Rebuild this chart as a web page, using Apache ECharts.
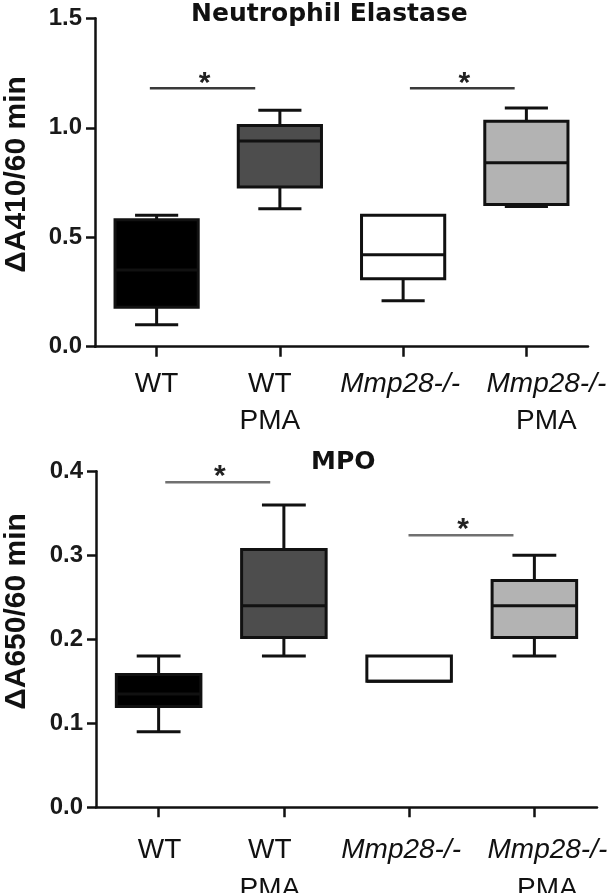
<!DOCTYPE html>
<html>
<head>
<meta charset="utf-8">
<script src="https://cdn.jsdelivr.net/npm/echarts@6/dist/echarts.min.js"></script>
<style>
html,body{margin:0;padding:0;background:#fff;}
#chart{width:610px;height:893px;}
</style>
</head>
<body>
<div id="chart"></div>
<script>
// ---- data ----
const categories = ['WT', 'WT PMA', 'Mmp28-/-', 'Mmp28-/- PMA'];

// Neutrophil Elastase (ΔA410/60 min)
const neMin    = [0.10, 0.63, 0.21, 0.64];
const neQ1     = [0.18, 0.73, 0.31, 0.65];
const neMedian = [0.35, 0.94, 0.42, 0.84];
const neQ3     = [0.58, 1.01, 0.60, 1.03];
const neMax    = [0.60, 1.08, 0.60, 1.09];
const neTicks  = [0, 0.5, 1.0, 1.5];
// significance comparisons: [fromGroup, toGroup, level]
const neSig = [[0, 1, 1.18], [2, 3, 1.18]];

// MPO (ΔA650/60 min)
const mpoMin    = [0.090, 0.180, 0.150, 0.180];
const mpoQ1     = [0.120, 0.202, 0.150, 0.202];
const mpoMedian = [0.135, 0.240, 0.150, 0.240];
const mpoQ3     = [0.158, 0.307, 0.180, 0.270];
const mpoMax    = [0.180, 0.360, 0.180, 0.300];
const mpoTicks  = [0, 0.1, 0.2, 0.3, 0.4];
const mpoSig = [[0, 1, 0.387], [2, 3, 0.324]];

// ---- style ----
const fills = ['#000000', '#4d4d4d', '#ffffff', '#b3b3b3'];
const BOX_W = 0.675, CAP_W = 0.35;
const neSigShift = [[-0.055, -0.20], [0.055, -0.095]];
const mpoSigShift = [[0.053, -0.109], [-0.005, -0.167]];
const neLabelShift = [0, -10, -3, 20];
const mpoLabelShift = [1, -14, -8, 13];

function boxData(mn, q1, md, q3, mx) {
  return categories.map((c, i) => [i, mn[i], q1[i], md[i], q3[i], mx[i]]);
}

function renderBox(params, api) {
  const idx = api.value(0);
  const vmin = api.value(1), q1 = api.value(2), med = api.value(3), q3 = api.value(4), vmax = api.value(5);
  const band = api.size([1, 0])[0];
  const cx = api.coord([idx, 0])[0];
  const Y = v => api.coord([idx, v])[1];
  const hw = band * BOX_W / 2, cw = band * CAP_W / 2;
  const ls = {stroke: '#111', lineWidth: 3};
  const children = [];
  if (vmax > q3) {
    children.push({type: 'line', shape: {x1: cx, y1: Y(q3), x2: cx, y2: Y(vmax)}, style: ls});
    children.push({type: 'line', shape: {x1: cx - cw, y1: Y(vmax), x2: cx + cw, y2: Y(vmax)}, style: ls});
  }
  if (vmin < q1) {
    children.push({type: 'line', shape: {x1: cx, y1: Y(q1), x2: cx, y2: Y(vmin)}, style: ls});
    children.push({type: 'line', shape: {x1: cx - cw, y1: Y(vmin), x2: cx + cw, y2: Y(vmin)}, style: ls});
  }
  children.push({type: 'rect', shape: {x: cx - hw, y: Y(q3), width: 2 * hw, height: Y(q1) - Y(q3)},
    style: {fill: fills[idx], stroke: '#111', lineWidth: 3}});
  children.push({type: 'line', shape: {x1: cx - hw, y1: Y(med), x2: cx + hw, y2: Y(med)}, style: ls});
  return {type: 'group', children: children};
}

function makeSigRender(shifts, color) {
  return function (params, api) {
    const from = api.value(0), to = api.value(1), lvl = api.value(2);
    const band = api.size([1, 0])[0];
    const s = shifts[params.dataIndex];
    const x1 = api.coord([from, lvl])[0] + s[0] * band;
    const x2 = api.coord([to, lvl])[0] + s[1] * band;
    const y = api.coord([from, lvl])[1];
    return {type: 'group', children: [
      {type: 'line', shape: {x1: x1, y1: y, x2: x2, y2: y}, style: {stroke: color, lineWidth: 2.5}},
      {type: 'text', style: {text: '*', x: (x1 + x2) / 2 + 2, y: y - 5, align: 'center', verticalAlign: 'middle',
        font: 'bold 30px "Liberation Sans", Arial, sans-serif', fill: '#222'}}
    ]};
  };
}

function xLabelRich(shifts, lh) {
  const rich = {};
  shifts.forEach((off, i) => {
    const pad = off > 0 ? [0, 0, 0, 2 * off] : [0, -2 * off, 0, 0];
    rich['n' + i] = {fontFamily: '"Liberation Sans", Arial, sans-serif', fontSize: 28, color: '#111', lineHeight: lh, padding: pad};
    rich['i' + i] = {fontFamily: '"Liberation Sans", Arial, sans-serif', fontSize: 28, fontStyle: 'italic', color: '#111', lineHeight: lh, padding: pad};
  });
  return rich;
}
function xLabelFormatter(val, idx) {
  let parts = val.split(' ');
  const lines = [];
  const first = parts[0];
  lines.push('{' + (first.startsWith('Mmp') ? 'i' : 'n') + idx + '|' + first + '}');
  if (parts.length > 1) lines.push('{n' + idx + '|' + parts.slice(1).join(' ') + '}');
  return lines.join('\n');
}

const axisLineStyle = {color: '#111', width: 2.5};
function xAxisCfg(gridIndex, shifts, margin, lh) {
  return {
    type: 'category', gridIndex: gridIndex, data: categories, boundaryGap: true,
    axisLine: {show: true, lineStyle: axisLineStyle},
    axisTick: {show: true, alignWithLabel: true, length: 10, lineStyle: axisLineStyle},
    axisLabel: {margin: margin, interval: 0, hideOverlap: false, formatter: xLabelFormatter, rich: xLabelRich(shifts, lh)},
    splitLine: {show: false}
  };
}
function yAxisCfg(gridIndex, ticks) {
  return {
    type: 'value', gridIndex: gridIndex, min: ticks[0], max: ticks[ticks.length - 1],
    interval: ticks[1] - ticks[0],
    axisLine: {show: true, lineStyle: axisLineStyle},
    axisTick: {show: true, length: 9, lineStyle: axisLineStyle},
    axisLabel: {margin: 13, fontFamily: '"Liberation Sans", Arial, sans-serif', fontWeight: 'bold', fontSize: 24, color: '#1a1a1a',
      formatter: v => v.toFixed(1)},
    splitLine: {show: false}
  };
}

const chart = echarts.init(document.getElementById('chart'), null, {renderer: 'canvas'});
chart.setOption({
  backgroundColor: '#ffffff',
  animation: false,
  title: [
    {text: 'Neutrophil Elastase', left: 191, top: 2, padding: 0,
      textStyle: {fontFamily: '"DejaVu Sans", sans-serif', fontWeight: 'bold', fontSize: 25, color: '#111'}},
    {text: 'MPO', left: 311, top: 450, padding: 0,
      textStyle: {fontFamily: '"DejaVu Sans", sans-serif', fontWeight: 'bold', fontSize: 25, color: '#111'}}
  ],
  grid: [
    {left: 95, right: 22, top: 18.3, height: 328.4, containLabel: false, outerBoundsMode: 'none'},
    {left: 96, right: 13, top: 471.3, height: 336, containLabel: false, outerBoundsMode: 'none'}
  ],
  xAxis: [xAxisCfg(0, neLabelShift, 19, 37), xAxisCfg(1, mpoLabelShift, 23, 39)],
  yAxis: [yAxisCfg(0, neTicks), yAxisCfg(1, mpoTicks)],
  graphic: [
    {type: 'text', x: 17, y: 174.5, rotation: Math.PI / 2,
      style: {text: 'ΔA410/60 min', align: 'center', verticalAlign: 'middle',
        font: 'bold 30px "Liberation Sans", Arial, sans-serif', fill: '#111'}},
    {type: 'text', x: 17, y: 611.5, rotation: Math.PI / 2,
      style: {text: 'ΔA650/60 min', align: 'center', verticalAlign: 'middle',
        font: 'bold 30px "Liberation Sans", Arial, sans-serif', fill: '#111'}}
  ],
  series: [
    {type: 'custom', xAxisIndex: 0, yAxisIndex: 0, clip: false, renderItem: renderBox,
      encode: {x: 0, y: [1, 2, 3, 4, 5]}, data: boxData(neMin, neQ1, neMedian, neQ3, neMax)},
    {type: 'custom', xAxisIndex: 0, yAxisIndex: 0, clip: false, renderItem: makeSigRender(neSigShift, '#3a3a3a'),
      encode: {x: 0, y: 2}, data: neSig},
    {type: 'custom', xAxisIndex: 1, yAxisIndex: 1, clip: false, renderItem: renderBox,
      encode: {x: 0, y: [1, 2, 3, 4, 5]}, data: boxData(mpoMin, mpoQ1, mpoMedian, mpoQ3, mpoMax)},
    {type: 'custom', xAxisIndex: 1, yAxisIndex: 1, clip: false, renderItem: makeSigRender(mpoSigShift, '#707070'),
      encode: {x: 0, y: 2}, data: mpoSig}
  ]
});
</script>
</body>
</html>
